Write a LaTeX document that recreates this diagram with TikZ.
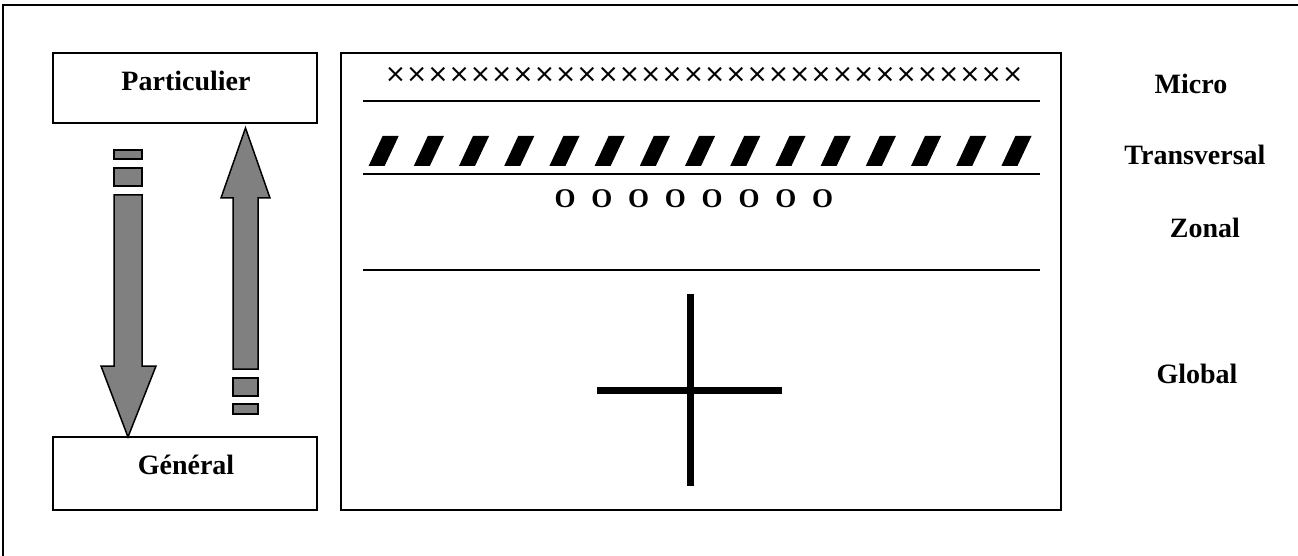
\documentclass[tikz,border=0pt]{standalone}
\usepackage{fontspec}
\setmainfont{Liberation Serif}
\newfontfamily\djv{DejaVu Sans}
\tikzset{
  frame/.style={line width=0.75pt},
  boxnode/.style={draw, line width=0.8pt, inner sep=0pt, outer sep=0pt},
  lbl/.style={font=\fontsize{14}{16}\selectfont\bfseries, anchor=base, inner sep=0pt},
  rule/.style={line width=0.8pt},
  blockarrow/.style={fill={rgb,255:red,128;green,128;blue,128}, draw=black, line width=0.75pt, line join=miter},
  slashbar/.style={fill=black},
  crossbar/.style={line width=3.5pt},
  zero/.style={font=\fontsize{13.5}{15}\selectfont\bfseries, anchor=base, inner sep=0pt},
}
\begin{document}
\begin{tikzpicture}[x=0.5pt,y=-0.5pt]
\useasboundingbox (0,0) rectangle (1298,556);
% outer frame
\draw[frame] (3,556) -- (3,5) -- (1298,5);
% boxes
\node[boxnode, minimum width=132pt, minimum height=35pt] (partbox) at (185,88) {};
\node[boxnode, minimum width=132pt, minimum height=36.5pt] (genbox) at (185,473.5) {};
\node[boxnode, minimum width=360pt, minimum height=228.5pt] (mainbox) at (701,281.5) {};
% labels
\node[lbl] (part) at (186,91) {Particulier};
\node[lbl] (gen) at (186,474) {Général};
\node[lbl] (micro) at (1191,94) {Micro};
\node[lbl] (trans) at (1195,165) {Transversal};
\node[lbl] (zonal) at (1205,238) {Zonal};
\node[lbl] (global) at (1197,383) {Global};
% inner rules
\draw[rule] (363,101) -- (1040,101);
\draw[rule] (363,174) -- (1040,174);
\draw[rule] (363,270) -- (1040,270);
% crosses
\node[font=\djv\fontsize{12.7}{14}\selectfont, inner sep=0pt] (xs) at (704,75) {××××××××××××××××××××××××××××××};
% slashes
\foreach \k in {0,...,14}{
  \fill[slashbar] ({368.6+45.2*\k},166) -- ({384.6+45.2*\k},166) -- ({398.7+45.2*\k},136) -- ({382.6+45.2*\k},136) -- cycle;
}
% zeros
\foreach \k in {0,...,7}{
  \node[zero] (o\k) at ({565+36.8*\k},208) {O};
}
% big cross
\draw[crossbar] (690,294) -- (690,486);
\draw[crossbar] (597,390) -- (782,390);
% down arrow
\draw[blockarrow] (114,150) rectangle (142,159);
\draw[blockarrow] (114,168) rectangle (142,186);
\draw[blockarrow] (114,195) -- (142,195) -- (142,366) -- (156,366) -- (128,437) -- (101,366) -- (114,366) -- cycle;
% up arrow
\draw[blockarrow] (245.5,128) -- (270,198) -- (258,198) -- (258,369) -- (233,369) -- (233,198) -- (221,198) -- cycle;
\draw[blockarrow] (233,378) rectangle (258,396);
\draw[blockarrow] (233,404) rectangle (258,414);
\end{tikzpicture}
\end{document}
